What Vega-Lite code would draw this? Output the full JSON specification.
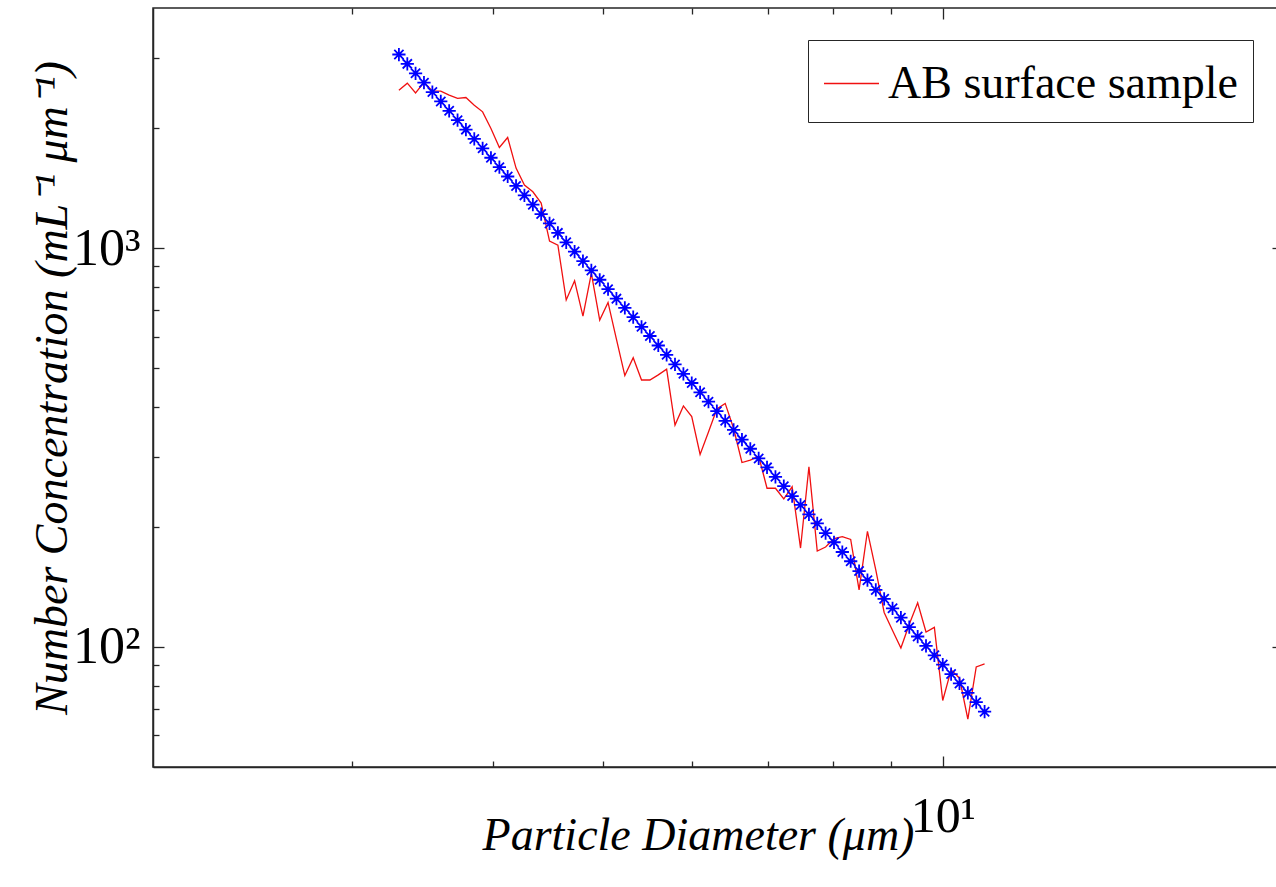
{
  "$schema": "https://vega.github.io/schema/vega-lite/v6.json",
  "width": 1130,
  "height": 759,
  "autosize": {"type": "none"},
  "padding": {"left": 153, "top": 8, "right": 0, "bottom": 120},
  "background": "white",
  "data": {"values": [
    {"d": 3.301, "n": 2489, "fit": 3058},
    {"d": 3.358, "n": 2592, "fit": 2897},
    {"d": 3.415, "n": 2450, "fit": 2744},
    {"d": 3.474, "n": 2603, "fit": 2599},
    {"d": 3.534, "n": 2479, "fit": 2462},
    {"d": 3.595, "n": 2475, "fit": 2332},
    {"d": 3.657, "n": 2418, "fit": 2209},
    {"d": 3.720, "n": 2373, "fit": 2093},
    {"d": 3.784, "n": 2386, "fit": 1982},
    {"d": 3.849, "n": 2283, "fit": 1878},
    {"d": 3.915, "n": 2196, "fit": 1779},
    {"d": 3.982, "n": 1995, "fit": 1685},
    {"d": 4.051, "n": 1788, "fit": 1596},
    {"d": 4.120, "n": 1894, "fit": 1512},
    {"d": 4.191, "n": 1587, "fit": 1432},
    {"d": 4.263, "n": 1439, "fit": 1356},
    {"d": 4.337, "n": 1384, "fit": 1285},
    {"d": 4.411, "n": 1297, "fit": 1217},
    {"d": 4.487, "n": 1041, "fit": 1153},
    {"d": 4.564, "n": 1017, "fit": 1092},
    {"d": 4.642, "n": 741, "fit": 1034},
    {"d": 4.722, "n": 828, "fit": 980},
    {"d": 4.803, "n": 675, "fit": 928},
    {"d": 4.886, "n": 864, "fit": 879},
    {"d": 4.970, "n": 660, "fit": 833},
    {"d": 5.055, "n": 731, "fit": 789},
    {"d": 5.142, "n": 591, "fit": 747},
    {"d": 5.231, "n": 479, "fit": 708},
    {"d": 5.321, "n": 531, "fit": 671},
    {"d": 5.412, "n": 467, "fit": 635},
    {"d": 5.505, "n": 467, "fit": 602},
    {"d": 5.600, "n": 481, "fit": 570},
    {"d": 5.696, "n": 497, "fit": 540},
    {"d": 5.794, "n": 360, "fit": 511},
    {"d": 5.894, "n": 402, "fit": 484},
    {"d": 5.995, "n": 378, "fit": 459},
    {"d": 6.098, "n": 304, "fit": 435},
    {"d": 6.203, "n": 346, "fit": 412},
    {"d": 6.310, "n": 395, "fit": 390},
    {"d": 6.418, "n": 408, "fit": 369},
    {"d": 6.529, "n": 353, "fit": 350},
    {"d": 6.641, "n": 290, "fit": 331},
    {"d": 6.755, "n": 294, "fit": 314},
    {"d": 6.871, "n": 301, "fit": 297},
    {"d": 6.989, "n": 250, "fit": 282},
    {"d": 7.110, "n": 250, "fit": 267},
    {"d": 7.232, "n": 235, "fit": 253},
    {"d": 7.356, "n": 252, "fit": 239},
    {"d": 7.483, "n": 177, "fit": 227},
    {"d": 7.612, "n": 283, "fit": 215},
    {"d": 7.742, "n": 174, "fit": 204},
    {"d": 7.875, "n": 178, "fit": 193},
    {"d": 8.011, "n": 187, "fit": 183},
    {"d": 8.148, "n": 189, "fit": 173},
    {"d": 8.288, "n": 186, "fit": 164},
    {"d": 8.431, "n": 139, "fit": 155},
    {"d": 8.576, "n": 195, "fit": 147},
    {"d": 8.723, "n": 156, "fit": 139},
    {"d": 8.873, "n": 122, "fit": 132},
    {"d": 9.026, "n": 110, "fit": 125},
    {"d": 9.181, "n": 99.4, "fit": 118.4},
    {"d": 9.339, "n": 114, "fit": 112.1},
    {"d": 9.500, "n": 129, "fit": 106.2},
    {"d": 9.663, "n": 109, "fit": 100.6},
    {"d": 9.829, "n": 112, "fit": 95.3},
    {"d": 9.998, "n": 73.4, "fit": 90.3},
    {"d": 10.170, "n": 87.6, "fit": 85.5},
    {"d": 10.345, "n": 83.5, "fit": 81.0},
    {"d": 10.523, "n": 65.9, "fit": 76.7},
    {"d": 10.704, "n": 89.1, "fit": 72.7},
    {"d": 10.888, "n": 90.7, "fit": 68.8}
  ]},
  "layer": [
    {
      "mark": {"type": "line", "strokeWidth": 1.3, "clip": true},
      "encoding": {
        "x": {"field": "d", "type": "quantitative",
          "scale": {"type": "log", "domain": [2, 20], "nice": false},
          "axis": {"orient": "bottom", "values": [10], "tickSize": -11, "labelPadding": 35,
            "labelExpr": "'10¹'", "labelFontSize": 50,
            "title": "Particle Diameter (μm)", "titleFontSize": 46, "titlePadding": -28,
            "titleX": 545}},
        "y": {"field": "n", "type": "quantitative",
          "scale": {"type": "log", "domain": [50, 4000], "nice": false},
          "axis": {"orient": "left", "values": [100, 1000], "tickSize": -11, "labelPadding": 24,
            "labelExpr": "datum.value == 100 ? '10²' : '10³'", "labelFontSize": 52,
            "title": "Number Concentration (mL⁻¹ μm⁻¹)", "titleFontSize": 46, "titlePadding": -4}},
        "color": {"datum": "AB surface sample", "type": "nominal",
          "scale": {"range": ["#f01010"]},
          "legend": {"title": null, "orient": "none", "legendX": 655, "legendY": 32,
            "padding": 15, "strokeColor": "#262626", "fillColor": "white",
            "labelFont": "Liberation Serif", "labelFontSize": 46, "labelColor": "#000",
            "labelLimit": 800, "labelOffset": 8,
            "symbolType": "stroke", "symbolSize": 3025, "symbolStrokeWidth": 1.3}}
      }
    },
    {
      "mark": {"type": "point", "shape": "M-1,0L1,0M0,-1L0,1M-0.7,-0.7L0.7,0.7M-0.7,0.7L0.7,-0.7",
        "filled": false, "stroke": "#0000ff", "strokeWidth": 1.8, "size": 175, "opacity": 1},
      "encoding": {
        "x": {"field": "d", "type": "quantitative",
          "scale": {"type": "log", "domain": [2, 20], "nice": false},
          "axis": {"orient": "bottom", "values": [3, 4, 5, 6, 7, 8, 9], "tickSize": -6,
            "labels": false, "title": null, "domain": false}},
        "y": {"field": "fit", "type": "quantitative",
          "scale": {"type": "log", "domain": [50, 4000], "nice": false},
          "axis": {"orient": "left", "values": [60, 70, 80, 90, 200, 300, 400, 500, 600, 700, 800, 900, 2000, 3000],
            "tickSize": -6, "labels": false, "title": null, "domain": false}}
      }
    },
    {
      "mark": {"type": "point", "opacity": 0},
      "encoding": {
        "x": {"field": "d", "type": "quantitative",
          "scale": {"type": "log", "domain": [2, 20], "nice": false},
          "axis": {"orient": "top", "values": [10], "tickSize": -11,
            "labels": false, "title": null, "domain": false}},
        "y": {"field": "fit", "type": "quantitative",
          "scale": {"type": "log", "domain": [50, 4000], "nice": false},
          "axis": {"orient": "right", "values": [100, 1000], "tickSize": -11,
            "labels": false, "title": null, "domain": false}}
      }
    },
    {
      "mark": {"type": "point", "opacity": 0},
      "encoding": {
        "x": {"field": "d", "type": "quantitative",
          "scale": {"type": "log", "domain": [2, 20], "nice": false},
          "axis": {"orient": "top", "values": [3, 4, 5, 6, 7, 8, 9], "tickSize": -6,
            "labels": false, "title": null, "domain": false}},
        "y": {"field": "fit", "type": "quantitative",
          "scale": {"type": "log", "domain": [50, 4000], "nice": false},
          "axis": {"orient": "right", "values": [60, 70, 80, 90, 200, 300, 400, 500, 600, 700, 800, 900, 2000, 3000],
            "tickSize": -6, "labels": false, "title": null, "domain": false}}
      }
    }
  ],
  "resolve": {"axis": {"x": "independent", "y": "independent"}},
  "config": {
    "view": {"stroke": "#262626", "strokeWidth": 1.5},
    "axis": {"grid": false, "domainColor": "#262626", "tickColor": "#262626", "domainWidth": 1.5, "tickWidth": 1.3,
      "labelColor": "#000", "titleColor": "#000", "labelFont": "Liberation Serif", "titleFont": "Liberation Serif",
      "titleFontWeight": "normal", "titleFontStyle": "italic"}
  }
}
